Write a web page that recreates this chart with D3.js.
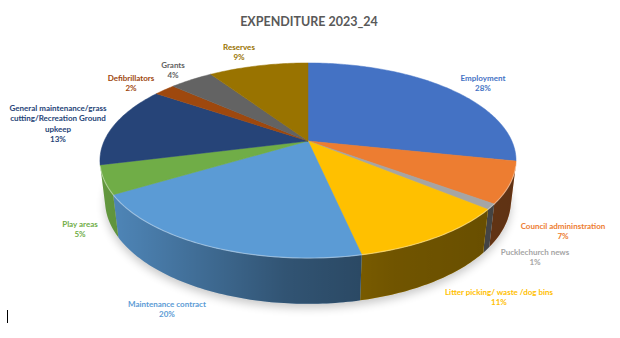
<!DOCTYPE html>
<html><head><meta charset="utf-8">
<script src="https://cdn.jsdelivr.net/npm/d3@7"></script>
<style>html,body{margin:0;padding:0;background:#fff;} svg{display:block;font-family:Lato,"Open Sans",sans-serif;}</style>
</head><body><svg id="c" width="620" height="338"></svg>
<script>
const title = "EXPENDITURE 2023_24";
const categories = ["Employment","Council admininstration","Pucklechurch news","Litter picking/ waste /dog bins","Maintenance contract","Play areas","General maintenance/grass cutting/Recreation Ground upkeep","Defibrillators","Grants","Reserves"];
const values = [28.3,6.8,0.9,10.6,19.8,4.7,13.4,2.0,4.1,9.4];
const colors = ["#4472C4","#ED7D31","#A5A5A5","#FFC000","#5B9BD5","#70AD47","#264478","#9E480E","#636363","#997300"];
const labelLines = [["Employment"],["Council admininstration"],["Pucklechurch news"],["Litter picking/ waste /dog bins"],["Maintenance contract"],["Play areas"],["General maintenance/grass","cutting/Recreation Ground","upkeep"],["Defibrillators"],["Grants"],["Reserves"]];
// layout: centre of first label line
const labelAt = [[483,78],[563,226],[535,252],[499,292],[167,304],[80,224],[58,108],[131,78],[173,65],[239,47]];

const svg = d3.select("#c");
const cam = {d:3.9, h:2.07, t:0.23, Fx:900, Fy:882, cx:308, cy:141};
const Lc = Math.hypot(cam.h, cam.d);
function proj(theta, r, y) {
  const u = r*Math.sin(theta), v = -r*Math.cos(theta);
  const ry = y - cam.h, rz = v - cam.d;
  const depth = (-ry*cam.h - rz*cam.d)/Lc;
  const up = (ry*cam.d - rz*cam.h)/Lc;
  return [cam.cx + cam.Fx*u/depth, cam.cy - cam.Fy*up/depth];
}
function arcPts(a0, a1, y) {
  const n = Math.max(2, Math.ceil((a1-a0)/(Math.PI/180)));
  return d3.range(n+1).map(i => proj(a0 + (a1-a0)*i/n, 1, y));
}
const line = d3.line().curve(d3.curveLinear);
const total = d3.sum(values);
const pie = d3.pie().sort(null).value(d => d)(values);

const defs = svg.append("defs");
const g1 = defs.append("linearGradient").attr("id","shade").attr("gradientUnits","userSpaceOnUse")
  .attr("x1",100).attr("x2",520).attr("y1",0).attr("y2",0);
[[0,0.12],[0.11,0.2],[0.44,0.46],[0.7,0.56],[1,0.6]].forEach(([o,a]) =>
  g1.append("stop").attr("offset",o).attr("stop-color","#000").attr("stop-opacity",a));
const f = defs.append("filter").attr("id","blur").attr("x","-20%").attr("y","-20%").attr("width","140%").attr("height","140%");
f.append("feGaussianBlur").attr("stdDeviation",5);

// shadow
const bottomAll = arcPts(0, 2*Math.PI, -cam.t).map(p => [p[0], p[1]+4]);
svg.append("path").attr("d", line(bottomAll)+"Z").attr("fill","#000").attr("opacity",0.22).attr("filter","url(#blur)");

// sides
const th0 = Math.acos(-1/cam.d), th1 = 2*Math.PI - th0;
pie.forEach((s,i) => {
  const a0 = Math.max(s.startAngle, th0), a1 = Math.min(s.endAngle, th1);
  if (a1 <= a0) return;
  const pts = arcPts(a0, a1, 0).concat(arcPts(a0, a1, -cam.t).reverse());
  const d = line(pts)+"Z";
  svg.append("path").attr("d", d).attr("fill", colors[i]);
  svg.append("path").attr("d", d).attr("fill", "url(#shade)");
});

// tops
pie.forEach((s,i) => {
  const pts = [proj(0,0,0)].concat(arcPts(s.startAngle, s.endAngle, 0));
  svg.append("path").attr("d", line(pts)+"Z").attr("fill", colors[i]).attr("stroke", colors[i]).attr("stroke-width",0.5);
});
// rim highlight
svg.append("path").attr("d", line(arcPts(th0, th1, 0))).attr("fill","none")
  .attr("stroke","#fff").attr("stroke-opacity",0.35).attr("stroke-width",1.2);

// title
svg.append("text").attr("x",309).attr("y",26).attr("text-anchor","middle")
  .attr("font-size",12.5).attr("font-weight","bold").attr("fill","#595959").text(title);

// labels
pie.forEach((s,i) => {
  const [x,y] = labelAt[i];
  const lines = labelLines[i].concat([Math.round(values[i]/total*100)+"%"]);
  const t = svg.append("text").attr("text-anchor","middle").attr("font-size",8).attr("font-weight","bold").attr("fill",colors[i]);
  lines.forEach((ln,k) => t.append("tspan").attr("x",x).attr("y",y+3+k*10.4).text(ln));
});

// cursor artifact
svg.append("line").attr("x1",7.5).attr("x2",7.5).attr("y1",310).attr("y2",323).attr("stroke","#000").attr("stroke-width",1);
</script></body></html>
